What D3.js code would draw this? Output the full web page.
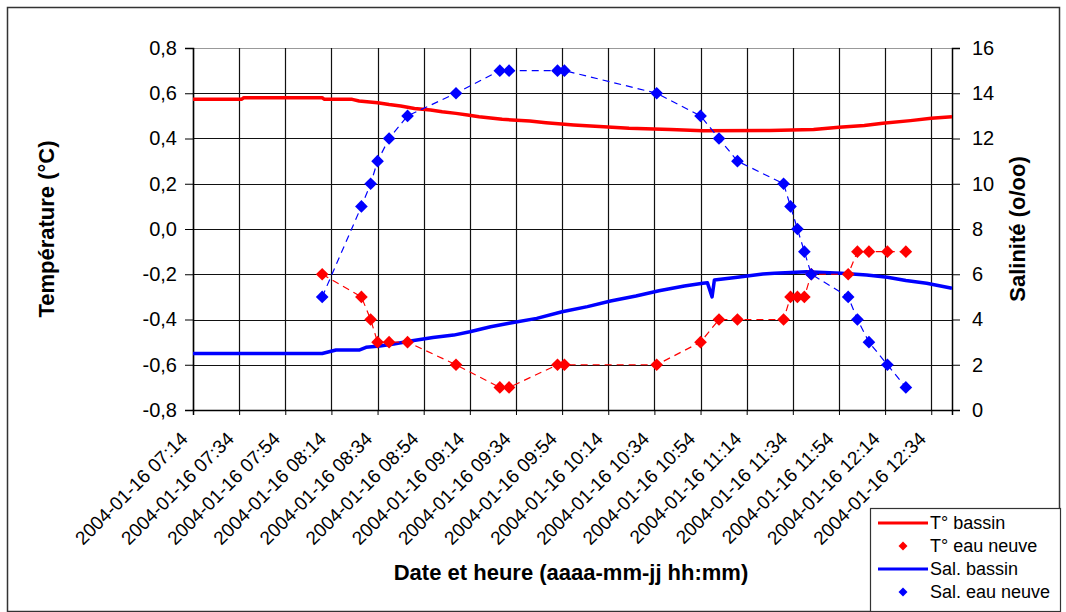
<!DOCTYPE html>
<html>
<head>
<meta charset="utf-8">
<script src="https://cdn.jsdelivr.net/npm/d3@7"></script>
<style>
  body { margin: 0; background: #fff; }
  svg { display: block; font-family: "Liberation Sans", Arial, sans-serif; }
</style>
</head>
<body>
<svg id="chart" width="1066" height="612"></svg>
<script>
// sample times (shared by both "eau neuve" series)
const ptTimes = ["08:10","08:27","08:31","08:34","08:39","08:47","09:08","09:27","09:31","09:52","09:55",
  "10:35","10:54","11:02","11:10","11:30","11:33","11:36","11:39","11:42","11:58","12:02","12:07","12:15","12:23"];
const tempNeuve = [-0.2,-0.3,-0.4,-0.5,-0.5,-0.5,-0.6,-0.7,-0.7,-0.6,-0.6,-0.6,-0.5,-0.4,-0.4,-0.4,
  -0.3,-0.3,-0.3,-0.2,-0.2,-0.1,-0.1,-0.1,-0.1];
const salNeuve = [5,9,10,11,12,13,14,15,15,15,15,14,13,12,11,10,9,8,7,6,5,4,3,2,1];

// T° bassin
const tBasTimes = ["07:14","07:35","07:36","08:10","08:11","08:23","08:26","08:34","08:39","08:44",
  "08:50","08:57","09:02","09:08","09:13","09:18","09:28","09:40","09:47","09:59",
  "10:12","10:23","10:41","10:55","11:24","11:43","11:54","12:05","12:13","12:25","12:34","12:43"];
const tempBassin = [0.573,0.573,0.58,0.58,0.573,0.573,0.566,0.558,0.55,0.544,
  0.533,0.526,0.518,0.511,0.504,0.496,0.485,0.477,0.47,0.46,
  0.452,0.445,0.44,0.434,0.435,0.44,0.45,0.457,0.467,0.479,0.489,0.496];

// Sal. bassin
const sBasTimes = ["07:14","07:55","08:10","08:16","08:26","08:29","08:35","08:41","08:49","08:58",
  "09:07","09:14","09:23","09:31","09:43","09:54","10:05","10:15","10:26","10:36",
  "10:47","10:55","10:57","10:59","11:00","11:10","11:21","11:26","11:40","11:55",
  "12:06","12:15","12:23","12:32","12:43"];
const salBassin = [2.5,2.5,2.5,2.65,2.65,2.77,2.83,2.92,3.06,3.2,
  3.31,3.46,3.68,3.83,4.05,4.34,4.57,4.82,5.04,5.27,
  5.48,5.6,5.62,5.0,5.75,5.87,6.01,6.04,6.11,6.04,
  5.97,5.87,5.72,5.6,5.38];

const xTickTimes = ["07:14","07:34","07:54","08:14","08:34","08:54","09:14","09:34","09:54",
  "10:14","10:34","10:54","11:14","11:34","11:54","12:14","12:34"];
const tempTicks = [-0.8,-0.6,-0.4,-0.2,0,0.2,0.4,0.6,0.8];
const salTicks = [0,2,4,6,8,10,12,14,16];

const day = "2004-01-16";
const parse = d3.timeParse("%Y-%m-%d %H:%M");
const t = s => parse(day + " " + s);

const svg = d3.select("#chart");
const margin = {top: 48, left: 193, right: 114, bottom: 202};
const iwidth = 1066 - margin.left - margin.right;
const iheight = 612 - margin.top - margin.bottom;

const fr = d3.formatLocale({decimal: ",", thousands: " ", grouping: [3], currency: ["", "€"], minus: "-"});
const fmtT = fr.format(".1f");

// outer frame
svg.append("rect")
  .attr("x", 7.5).attr("y", 7.5).attr("width", 1052).attr("height", 604)
  .attr("fill", "#fff").attr("stroke", "#333").attr("stroke-width", 1.5);

const g = svg.append("g").attr("transform", `translate(${margin.left},${margin.top})`);

const x = d3.scaleTime().domain([t("07:14"), t("12:43")]).range([0, iwidth]);
const y = d3.scaleLinear().domain([-0.8, 0.8]).range([iheight, 0]);
const y2 = d3.scaleLinear().domain([0, 16]).range([iheight, 0]);

// grid
g.append("g").selectAll("line").data(tempTicks).enter().append("line")
  .attr("x1", 0).attr("x2", iwidth)
  .attr("y1", d => Math.round(y(d)) + 0.5).attr("y2", d => Math.round(y(d)) + 0.5)
  .attr("stroke", d => d === 0.8 ? "#999" : "#111").attr("stroke-width", 1.2);
g.append("g").selectAll("line").data(xTickTimes).enter().append("line")
  .attr("x1", d => Math.round(x(t(d))) + 0.5).attr("x2", d => Math.round(x(t(d))) + 0.5)
  .attr("y1", 0).attr("y2", iheight)
  .attr("stroke", "#111").attr("stroke-width", 1.2);

// axes
const yAxis = g.append("g")
  .call(d3.axisLeft(y).tickValues(tempTicks).tickFormat(fmtT).tickSize(8).tickPadding(8));
const y2Axis = g.append("g")
  .attr("transform", `translate(${iwidth},0)`)
  .call(d3.axisRight(y2).tickValues(salTicks).tickSize(8).tickPadding(12));
const xAxis = g.append("g")
  .attr("transform", `translate(0,${iheight})`)
  .call(d3.axisBottom(x).tickValues(xTickTimes.map(t)).tickSize(5).tickFormat(""));

[yAxis, y2Axis, xAxis].forEach(a => {
  a.select(".domain").attr("stroke", "#000").attr("stroke-width", 1.5);
  a.selectAll(".tick line").attr("stroke", "#000");
  a.selectAll("text").attr("font-size", 20).attr("font-family", "Liberation Sans, Arial").attr("fill", "#000");
});

// rotated x labels
g.append("g").selectAll("text").data(xTickTimes).enter().append("text")
  .attr("transform", d => `translate(${x(t(d)) - 4},${iheight + 30}) rotate(-45)`)
  .attr("text-anchor", "end")
  .attr("font-size", 19)
  .text(d => day + " " + d);

// lines
const salLine = d3.line().x(d => x(d[0])).y(d => y2(d[1]));
const tempLine = d3.line().x(d => x(d[0])).y(d => y(d[1]));

const tBas = tBasTimes.map((s, i) => [t(s), tempBassin[i]]);
const sBas = sBasTimes.map((s, i) => [t(s), salBassin[i]]);
const tNeu = ptTimes.map((s, i) => [t(s), tempNeuve[i]]);
const sNeu = ptTimes.map((s, i) => [t(s), salNeuve[i]]);

g.append("path").datum(sBas).attr("d", salLine)
  .attr("fill", "none").attr("stroke", "#0000ff").attr("stroke-width", 3.5).attr("stroke-linejoin", "round");
g.append("path").datum(tBas).attr("d", tempLine)
  .attr("fill", "none").attr("stroke", "#ff0000").attr("stroke-width", 3.5).attr("stroke-linejoin", "round");

g.append("path").datum(tNeu).attr("d", tempLine)
  .attr("fill", "none").attr("stroke", "#ff0000").attr("stroke-width", 1.2).attr("stroke-dasharray", "7,5");
g.append("path").datum(sNeu).attr("d", salLine)
  .attr("fill", "none").attr("stroke", "#0000ff").attr("stroke-width", 1.2).attr("stroke-dasharray", "7,5");

const diamond = d3.symbol().type(d3.symbolSquare).size(80);
g.append("g").selectAll("path").data(tNeu).enter().append("path")
  .attr("d", diamond)
  .attr("transform", d => `translate(${x(d[0])},${y(d[1])}) rotate(45)`)
  .attr("fill", "#ff0000");
g.append("g").selectAll("path").data(sNeu).enter().append("path")
  .attr("d", diamond)
  .attr("transform", d => `translate(${x(d[0])},${y2(d[1])}) rotate(45)`)
  .attr("fill", "#0000ff");

// titles
svg.append("text")
  .attr("transform", `translate(54,${margin.top + iheight / 2}) rotate(-90)`)
  .attr("text-anchor", "middle").attr("font-size", 22).attr("font-weight", "bold")
  .text("Température (°C)");
svg.append("text")
  .attr("transform", `translate(1025,${margin.top + iheight / 2}) rotate(-90)`)
  .attr("text-anchor", "middle").attr("font-size", 22).attr("font-weight", "bold")
  .text("Salinité (o/oo)");
svg.append("text")
  .attr("x", 571).attr("y", 580)
  .attr("text-anchor", "middle").attr("font-size", 22).attr("font-weight", "bold")
  .text("Date et heure (aaaa-mm-jj hh:mm)");

// legend
const legItems = [
  {name: "T° bassin", color: "#ff0000", type: "line"},
  {name: "T° eau neuve", color: "#ff0000", type: "point"},
  {name: "Sal. bassin", color: "#0000ff", type: "line"},
  {name: "Sal. eau neuve", color: "#0000ff", type: "point"}
];
const leg = svg.append("g").attr("transform", "translate(870,508)");
leg.append("rect").attr("x", 0.5).attr("y", 0.5).attr("width", 190).attr("height", 103)
  .attr("fill", "#fff").attr("stroke", "#333").attr("stroke-width", 1.2);
const li = leg.selectAll("g.item").data(legItems).enter().append("g")
  .attr("transform", (d, i) => `translate(0,${15 + i * 23})`);
li.filter(d => d.type === "line").append("line")
  .attr("x1", 8).attr("x2", 58).attr("stroke", d => d.color).attr("stroke-width", 3);
li.filter(d => d.type === "point").append("path")
  .attr("d", d3.symbol().type(d3.symbolSquare).size(40))
  .attr("transform", "translate(33,0) rotate(45)")
  .attr("fill", d => d.color);
li.append("text").attr("x", 60).attr("dy", "0.35em").attr("font-size", 18).text(d => d.name);
</script>
</body>
</html>
